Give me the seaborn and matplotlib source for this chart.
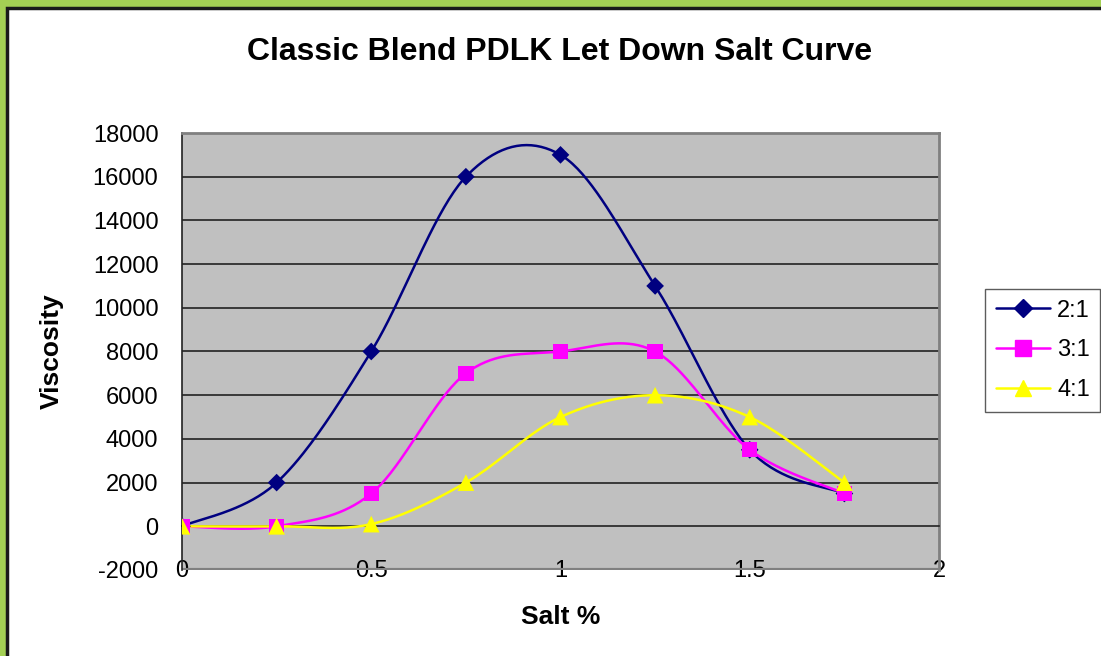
import numpy as np
import pandas as pd
import seaborn as sns
import matplotlib.pyplot as plt
from matplotlib.lines import Line2D
from matplotlib.patches import Rectangle

# values
salt = [0, 0.25, 0.5, 0.75, 1.0, 1.25, 1.5, 1.75]
visc_2to1 = [0, 2000, 8000, 16000, 17000, 11000, 3500, 1500]
visc_3to1 = [0, 0, 1500, 7000, 8000, 8000, 3500, 1500]
visc_4to1 = [0, 0, 100, 2000, 5000, 6000, 5000, 2000]
series_names = ["2:1", "3:1", "4:1"]
y_ticks = list(range(-2000, 18001, 2000))
x_ticks = [0, 0.5, 1, 1.5, 2]

colors = {"2:1": "#000080", "3:1": "#FF00FF", "4:1": "#FFFF00"}
markers = {"2:1": "D", "3:1": "s", "4:1": "^"}
msize = {"2:1": 9, "3:1": 11, "4:1": 12}


def smooth(x, y, n=40):
    # excel-style smoothed line (catmull-rom bezier through the points)
    p = np.column_stack([x, y]).astype(float)
    out = []
    for i in range(len(p) - 1):
        p0 = p[i - 1] if i > 0 else p[i]
        p3 = p[i + 2] if i + 2 < len(p) else p[i + 1]
        p1, p2 = p[i], p[i + 1]
        c1 = p1 + (p2 - p0) / 6
        c2 = p2 - (p3 - p1) / 6
        t = np.linspace(0, 1, n)[:, None]
        seg = (1 - t) ** 3 * p1 + 3 * (1 - t) ** 2 * t * c1 + 3 * (1 - t) * t ** 2 * c2 + t ** 3 * p2
        out.append(seg if i == 0 else seg[1:])
    out = np.vstack(out)
    return out[:, 0], out[:, 1]


sns.set_style("white")
plt.rcParams["font.family"] = ["Liberation Sans", "DejaVu Sans"]
plt.rcParams["text.color"] = "black"
plt.rcParams["xtick.color"] = "black"
plt.rcParams["ytick.color"] = "black"
plt.rcParams["axes.labelcolor"] = "black"
plt.rcParams["axes.unicode_minus"] = False

fig = plt.figure(figsize=(11.01, 6.56), dpi=100)
fig.patch.set_facecolor("#A4D054")
fig.patches.append(Rectangle((7 / 1101, -0.01), 1.02, 1 - 8 / 656 + 0.01, transform=fig.transFigure,
                             facecolor="white", edgecolor="#1a1a1a", linewidth=2.5, zorder=-10))

ax = fig.add_axes([182 / 1101, 1 - 570 / 656, 757 / 1101, 437 / 656])
ax.set_facecolor("#C0C0C0")

data = pd.DataFrame({"salt": salt * 3,
                     "visc": visc_2to1 + visc_3to1 + visc_4to1,
                     "ratio": sum([[s] * len(salt) for s in series_names], [])})

for name in series_names:
    d = data[data.ratio == name]
    sx, sy = smooth(d.salt.values, d.visc.values)
    ax.plot(sx, sy, color=colors[name], linewidth=1.8, zorder=3)
    sns.scatterplot(x=d.salt, y=d.visc, marker=markers[name], s=msize[name] ** 2,
                    color=colors[name], edgecolor="none", ax=ax, zorder=4, legend=False)

ax.set_xlim(0, 2)
ax.set_ylim(-2000, 18000)
ax.set_yticks(y_ticks)
ax.set_xticks(x_ticks)
ax.set_xticklabels(["0", "0.5", "1", "1.5", "2"])
for yv in y_ticks[2:-1]:
    ax.axhline(yv, color="#222222", linewidth=1.2, zorder=1)

for s in ["top", "right"]:
    ax.spines[s].set_color("#808080")
    ax.spines[s].set_linewidth(2)
ax.spines["left"].set_color("#222222")
ax.spines["left"].set_linewidth(1.2)
ax.spines["bottom"].set_position(("data", 0))
ax.spines["bottom"].set_color("#222222")
ax.spines["bottom"].set_linewidth(1.2)
# grey frame along the real bottom edge
ax.axhline(-2000, color="#808080", linewidth=3, zorder=1.5)

ax.tick_params(axis="y", direction="out", length=6, width=1.2, color="#222222", pad=11, labelsize=17)
ax.tick_params(axis="x", direction="out", length=6, width=1.2, color="#222222", pad=18, labelsize=17)
ax.set_xlabel("Salt %", fontsize=19, fontweight="bold", va="center")
ax.set_ylabel("Viscosity", fontsize=19, fontweight="bold", va="center")
ax.xaxis.set_label_coords(0.5, -0.1075)
ax.yaxis.set_label_coords(-0.172, 0.5)

fig.text(560 / 1101, 1 - 52 / 656, "Classic Blend PDLK Let Down Salt Curve",
         ha="center", va="center", fontsize=23, fontweight="bold")

handles = [Line2D([], [], color=colors[n], marker=markers[n], markersize=msize[n] * 1.0,
                  linewidth=1.8, markeredgecolor=colors[n]) for n in series_names]
leg = fig.legend(handles, series_names, loc="upper left", bbox_to_anchor=(985 / 1101, 1 - 289 / 656),
                 fontsize=17, frameon=True, fancybox=False, handlelength=2.3, handletextpad=0.3,
                 borderpad=0.45, labelspacing=0.75, borderaxespad=0)
leg.get_frame().set_edgecolor("#333333")
leg.get_frame().set_linewidth(1)

fig.savefig("out.png", dpi=100, facecolor=fig.get_facecolor())
